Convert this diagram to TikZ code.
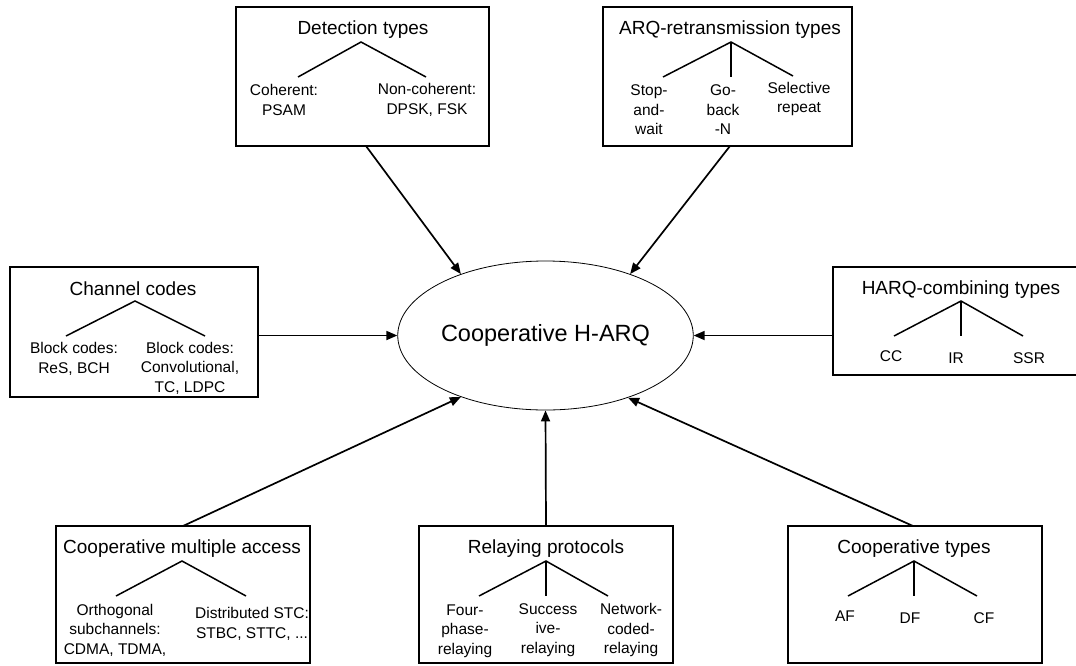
\documentclass[tikz,border=0pt]{standalone}
\usepackage{fontspec}
\setmainfont{Liberation Sans}
\usetikzlibrary{shapes.geometric,arrows.meta}
\begin{document}
\begin{tikzpicture}[x=1pt,y=-1pt,
  box/.style={draw,line width=1.6pt,inner sep=0pt,outer sep=0pt},
  ttl/.style={font=\fontsize{19}{22}\selectfont,inner sep=0pt},
  lbl/.style={font=\fontsize{15.5}{19.5}\selectfont,align=center,inner sep=0pt},
  tree/.style={line width=1.5pt},
  arr/.style={line width=1.7pt,-{Triangle[length=11pt,width=9pt]}}]
\useasboundingbox (0,0) rectangle (1076,665);
% central ellipse
\node[ellipse,draw,line width=0.8pt,minimum width=271pt,minimum height=149pt,inner sep=0pt,
  font=\fontsize{23.5}{26}\selectfont] (ell) at (545.5,335.5) {Cooperative H-ARQ};
% boxes
\node[box,minimum width=253pt,minimum height=139pt] (det) at (362.5,76.5) {};
\node[box,minimum width=249pt,minimum height=139pt] (arq) at (727.5,76.5) {};
\node[box,minimum width=248pt,minimum height=130pt] (chan) at (134,332) {};
\node[box,minimum width=250pt,minimum height=108pt] (harq) at (958,321) {};
\node[box,minimum width=254pt,minimum height=137pt] (cma) at (183,594.5) {};
\node[box,minimum width=254pt,minimum height=137pt] (rel) at (546,594.5) {};
\node[box,minimum width=254pt,minimum height=137pt] (coop) at (915,594.5) {};
% titles
\node[ttl] (detT) at (363,30) {Detection types};
\node[ttl] (arqT) at (730,30) {ARQ-retransmission types};
\node[ttl] (chanT) at (133,289) {Channel codes};
\node[ttl] (harqT) at (961,290) {HARQ-combining types};
\node[ttl] (cmaT) at (182,549) {Cooperative multiple access};
\node[ttl] (relT) at (546,549) {Relaying protocols};
\node[ttl] (coopT) at (914,549) {Cooperative types};
% trees
\coordinate (detA) at (361,42); \coordinate (detL) at (298,77); \coordinate (detR) at (426,77);
\draw[tree] (detL) -- (detA) -- (detR);
\coordinate (arqA) at (731,42); \coordinate (arqL) at (663,77); \coordinate (arqM) at (731,77); \coordinate (arqR) at (793,76);
\draw[tree] (arqL) -- (arqA) -- (arqR); \draw[tree] (arqA) -- (arqM);
\coordinate (chanA) at (135,301); \coordinate (chanL) at (66,336); \coordinate (chanR) at (205,336);
\draw[tree] (chanL) -- (chanA) -- (chanR);
\coordinate (harqA) at (961,301); \coordinate (harqL) at (894,336); \coordinate (harqM) at (961,336); \coordinate (harqR) at (1023,336);
\draw[tree] (harqL) -- (harqA) -- (harqR); \draw[tree] (harqA) -- (harqM);
\coordinate (cmaA) at (182,561); \coordinate (cmaL) at (116,596); \coordinate (cmaR) at (246,596);
\draw[tree] (cmaL) -- (cmaA) -- (cmaR);
\coordinate (relA) at (546,561); \coordinate (relL) at (479,596); \coordinate (relM) at (546,596); \coordinate (relR) at (608,596);
\draw[tree] (relL) -- (relA) -- (relR); \draw[tree] (relA) -- (relM);
\coordinate (coopA) at (914,561); \coordinate (coopL) at (848,596); \coordinate (coopM) at (914,596); \coordinate (coopR) at (977,596);
\draw[tree] (coopL) -- (coopA) -- (coopR); \draw[tree] (coopA) -- (coopM);
% labels
\node[lbl] (d1) at (284,100) {Coherent:\\PSAM};
\node[lbl] (d2) at (427,100) {Non-coherent:\\DPSK, FSK};
\node[lbl] (a1) at (649,110) {Stop-\\and-\\wait};
\node[lbl] (a2) at (723,110) {Go-\\back\\-N};
\node[lbl] (a3) at (799,99) {Selective\\repeat};
\node[lbl] (c1) at (74,359) {Block codes:\\ReS, BCH};
\node[lbl] (c2) at (190,368) {Block codes:\\Convolutional,\\TC, LDPC};
\node[lbl] (h1) at (891,356) {CC};
\node[lbl] (h2) at (956,358) {IR};
\node[lbl] (h3) at (1029,358) {SSR};
\node[lbl] (m1) at (115,630) {Orthogonal\\subchannels:\\CDMA, TDMA,};
\node[lbl] (m2) at (252,624) {Distributed STC:\\STBC, STTC, ...};
\node[lbl] (r1) at (465,631) {Four-\\phase-\\relaying};
\node[lbl] (r2) at (548,630) {Success\\ive-\\relaying};
\node[lbl] (r3) at (631,630) {Network-\\coded-\\relaying};
\node[lbl] (t1) at (845,616) {AF};
\node[lbl] (t2) at (910,618) {DF};
\node[lbl] (t3) at (984,618) {CF};
% arrows
\draw[arr] ([xshift=3.5pt]det.south) -- (ell.144);
\draw[arr] ([xshift=2.5pt]arq.south) -- (ell.36);
\draw[arr] (chan.east |- ell.center) -- (ell.west);
\draw[arr] (harq.west |- ell.center) -- (ell.east);
\draw[arr] (cma.north) -- (ell.216);
\draw[arr] (rel.north) -- (ell.south);
\draw[arr] ([xshift=-2pt]coop.north) -- (ell.323);
\end{tikzpicture}
\end{document}
